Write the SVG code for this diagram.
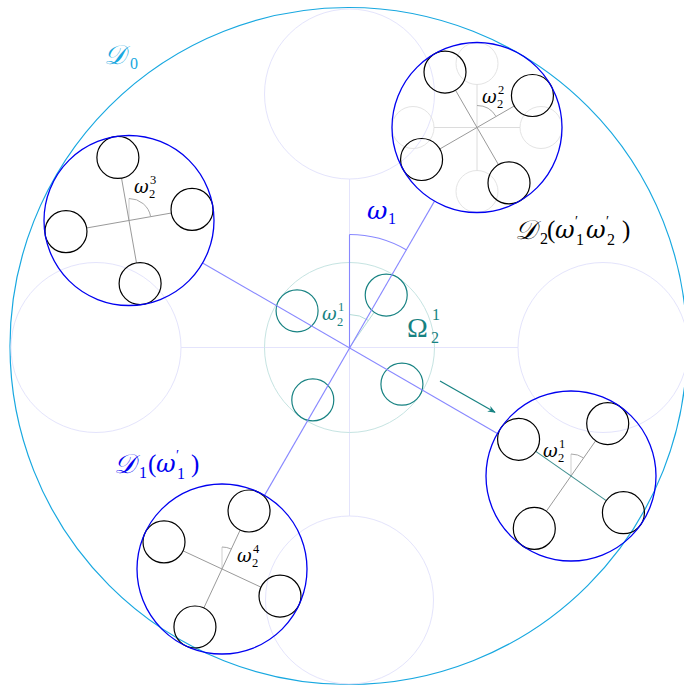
<svg xmlns="http://www.w3.org/2000/svg" width="684" height="688" viewBox="0 0 684 688">
  <style>
    .outer { fill: none; stroke: #18a8e0; stroke-width: 1.2; }
    .ghost { fill: none; stroke: #e4e4fc; stroke-width: 1; }
    .core { fill: none; stroke: #c6e4e2; stroke-width: 1; }
    .disk { fill: none; stroke: #0000f0; stroke-width: 1.3; }
    .ball { fill: none; stroke: #000; stroke-width: 1.2; }
    .tball { fill: none; stroke: #178282; stroke-width: 1.2; }
    .faint { fill: none; stroke: #e4e4e4; stroke-width: 1; }
    .faintln { stroke: #dcdcdc; stroke-width: 1; }
    .arm { stroke: #9a9a9a; stroke-width: 1; }
    .ref { stroke: #cfcfcf; stroke-width: 1; }
    .ang { fill: none; stroke: #a8a8a8; stroke-width: 1; }
    .tarm { stroke: #3f8f8f; stroke-width: 1.1; }
    .bline { stroke: #8888ff; stroke-width: 1.1; fill: none; }
    .lav { stroke: #e4e4fc; stroke-width: 1; }
    text { font-family: "Liberation Serif", "DejaVu Serif", serif; }
    .it { font-family: "DejaVu Serif", "Liberation Serif", serif; font-style: italic; }
    .cal { font-family: "DejaVu Serif", "Liberation Serif", serif; font-style: italic; }
  </style>
  <defs>
    <marker id="tealhead" viewBox="0 0 10 10" refX="9" refY="5" markerWidth="8" markerHeight="8" orient="auto" markerUnits="userSpaceOnUse">
      <path d="M0,1 L10,5 L0,9 L3,5 Z" fill="#178282"/>
    </marker>
  </defs>

  <rect width="684" height="688" fill="#fff"/>

  <!-- outer domain -->
  <g id="D0">
    <circle class="outer" cx="348.5" cy="346" r="338.5"/>
    <text x="104" y="64" font-size="27" fill="#18a8e0" class="cal">𝒟</text>
    <text x="130" y="69" font-size="16" fill="#18a8e0">0</text>
  </g>

  <!-- reference positions -->
  <g id="ghosts">
    <circle class="ghost" cx="349.5" cy="94" r="85"/>
    <circle class="ghost" cx="349.5" cy="600" r="84"/>
    <circle class="ghost" cx="96" cy="347.5" r="85"/>
    <circle class="ghost" cx="603" cy="347.5" r="85"/>
    <line class="lav" x1="181" y1="347.5" x2="518" y2="347.5"/>
    <line class="lav" x1="349.5" y1="179" x2="349.5" y2="516"/>
  </g>

  <!-- central configuration -->
  <g id="Omega21">
    <circle class="core" cx="349.5" cy="347.5" r="85"/>
    <line x1="349.5" y1="347.5" x2="374.16" y2="312.28" stroke="#b4dcd8" stroke-width="1"/>
    <path d="M349.5,314.5 A33,33 0 0 1 368.43,320.47" fill="none" stroke="#b4dcd8" stroke-width="1"/>
    <circle class="tball" cx="386.21" cy="295.07" r="21"/>
    <circle class="tball" cx="401.93" cy="384.21" r="21"/>
    <circle class="tball" cx="312.79" cy="399.93" r="21"/>
    <circle class="tball" cx="297.07" cy="310.79" r="21"/>
    <text x="322" y="320" font-size="18" fill="#178282" class="it">ω</text>
    <text x="338" y="311" font-size="12.5" fill="#178282">1</text>
    <text x="337" y="326" font-size="12.5" fill="#178282">2</text>
    <text x="407" y="337" font-size="28" fill="#178282">Ω</text>
    <text x="432" y="320" font-size="16" fill="#178282">1</text>
    <text x="431" y="343" font-size="16" fill="#178282">2</text>
  </g>

  <!-- connectors -->
  <g id="connectors">
    <line class="bline" x1="434.5" y1="201.1" x2="264.5" y2="495.4"/>
    <line class="bline" x1="202.6" y1="263" x2="497.4" y2="433.5"/>
    <line class="bline" x1="349.5" y1="347.5" x2="349.5" y2="234.5"/>
    <path class="bline" d="M349.5,234.5 A113,113 0 0 1 406.5,249.9"/>
    <text x="367" y="219" font-size="25" fill="#0000f0" class="it">ω</text>
    <text x="388" y="224" font-size="16" fill="#0000f0">1</text>
    <line x1="440" y1="381" x2="495" y2="412.3" stroke="#178282" stroke-width="1.2" marker-end="url(#tealhead)"/>
  </g>

  <!-- D2 (top right) -->
  <g id="D2">
    <circle class="faint" cx="477" cy="63.5" r="21"/>
    <circle class="faint" cx="541" cy="127.5" r="21"/>
    <circle class="faint" cx="477" cy="191.5" r="21"/>
    <circle class="faint" cx="413" cy="127.5" r="21"/>
    <line class="faintln" x1="434" y1="127.5" x2="520" y2="127.5"/>
    <line class="faintln" x1="477" y1="84.5" x2="477" y2="170.5"/>
    <line class="arm" x1="439.76" y1="149" x2="514.24" y2="106"/>
    <line class="arm" x1="455.5" y1="90.26" x2="498.5" y2="164.74"/>
    <path class="ang" d="M477,105.5 A22,22 0 0 1 496.05,116.5"/>
    <circle class="ball" cx="445" cy="72.07" r="21"/>
    <circle class="ball" cx="532.43" cy="95.5" r="21"/>
    <circle class="ball" cx="509" cy="182.93" r="21"/>
    <circle class="ball" cx="421.57" cy="159.5" r="21"/>
    <circle class="disk" cx="477" cy="127.5" r="85"/>
    <text x="482" y="103" font-size="18" class="it">ω</text>
    <text x="498" y="94" font-size="12.5">2</text>
    <text x="497" y="108" font-size="12.5">2</text>
    <text x="515" y="239" font-size="27" class="cal">𝒟</text>
    <text x="540" y="244" font-size="16">2</text>
    <text x="547" y="238" font-size="25">(</text>
    <text x="555" y="238" font-size="24" class="it">ω</text>
    <text x="575" y="226" font-size="14">′</text>
    <text x="576" y="245" font-size="16">1</text>
    <text x="586" y="238" font-size="24" class="it">ω</text>
    <text x="606" y="226" font-size="14">′</text>
    <text x="607" y="245" font-size="16">2</text>
    <text x="622" y="238" font-size="25">)</text>
  </g>

  <!-- D3 (top left) -->
  <g id="D3">
    <line class="ref" x1="129" y1="220.5" x2="129" y2="198.5"/>
    <line class="arm" x1="86.65" y1="227.97" x2="171.35" y2="213.03"/>
    <line class="arm" x1="121.53" y1="178.15" x2="136.47" y2="262.85"/>
    <path class="ang" d="M129,198.5 A22,22 0 0 1 150.67,216.68"/>
    <circle class="ball" cx="117.89" cy="157.47" r="21"/>
    <circle class="ball" cx="192.03" cy="209.39" r="21"/>
    <circle class="ball" cx="140.11" cy="283.53" r="21"/>
    <circle class="ball" cx="65.97" cy="231.61" r="21"/>
    <circle class="disk" cx="129" cy="220.5" r="85"/>
    <text x="134" y="193" font-size="18" class="it">ω</text>
    <text x="150" y="184" font-size="12.5">3</text>
    <text x="149" y="198" font-size="12.5">2</text>
  </g>

  <!-- D4 (bottom left) -->
  <g id="D4">
    <line class="ref" x1="222" y1="569" x2="222" y2="547"/>
    <line class="arm" x1="203.83" y1="607.97" x2="240.17" y2="530.03"/>
    <line class="arm" x1="183.03" y1="550.83" x2="260.97" y2="587.17"/>
    <path class="ang" d="M222,547 A22,22 0 0 1 231.3,549.06"/>
    <circle class="ball" cx="249.05" cy="511" r="21"/>
    <circle class="ball" cx="280" cy="596.05" r="21"/>
    <circle class="ball" cx="194.95" cy="627" r="21"/>
    <circle class="ball" cx="164" cy="541.95" r="21"/>
    <circle class="disk" cx="222" cy="569" r="85"/>
    <text x="237" y="562" font-size="18" class="it">ω</text>
    <text x="253" y="553" font-size="12.5">4</text>
    <text x="252" y="567" font-size="12.5">2</text>
  </g>

  <!-- D1 (bottom right) -->
  <g id="D1">
    <line class="ref" x1="571" y1="476" x2="571" y2="454"/>
    <line class="arm" x1="546.34" y1="511.22" x2="595.66" y2="440.78"/>
    <line class="tarm" x1="535.78" y1="451.34" x2="606.22" y2="500.66"/>
    <path class="ang" d="M571,454 A22,22 0 0 1 583.62,457.98"/>
    <circle class="ball" cx="607.71" cy="423.57" r="21"/>
    <circle class="ball" cx="623.43" cy="512.71" r="21"/>
    <circle class="ball" cx="534.29" cy="528.43" r="21"/>
    <circle class="ball" cx="518.57" cy="439.29" r="21"/>
    <circle class="disk" cx="571" cy="476" r="85"/>
    <text x="543" y="457" font-size="18" class="it">ω</text>
    <text x="559" y="448" font-size="12.5">1</text>
    <text x="558" y="462" font-size="12.5">2</text>
  </g>

  <!-- D1 label -->
  <g id="D1label" fill="#0000f0">
    <text x="114" y="473" font-size="27" class="cal">𝒟</text>
    <text x="139" y="478" font-size="16">1</text>
    <text x="148" y="472" font-size="25">(</text>
    <text x="156" y="472" font-size="24" class="it">ω</text>
    <text x="176" y="460" font-size="14">′</text>
    <text x="177" y="479" font-size="16">1</text>
    <text x="191" y="472" font-size="25">)</text>
  </g>
</svg>
